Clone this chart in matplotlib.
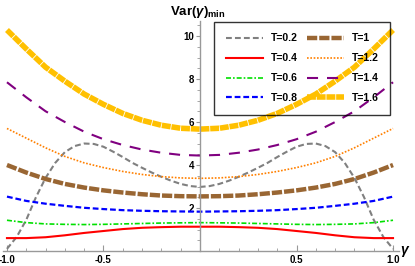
import matplotlib
matplotlib.use("Agg")
import matplotlib.pyplot as plt
from matplotlib.ticker import MultipleLocator, FixedLocator

plt.rcParams['font.family'] = ['Liberation Sans', 'DejaVu Sans']
plt.rcParams['font.weight'] = 'bold'
plt.rcParams['axes.unicode_minus'] = False
plt.rcParams['mathtext.fontset'] = 'custom'
plt.rcParams['mathtext.rm'] = 'Liberation Sans:bold'
plt.rcParams['mathtext.it'] = 'Liberation Sans:italic:bold'
plt.rcParams['mathtext.bf'] = 'Liberation Sans:bold'

# gamma grid (step 0.1) and a finer one for T=0.2
gamma = [-1.0, -0.9, -0.8, -0.7, -0.6, -0.5, -0.4, -0.3, -0.2, -0.1, 0.0,
         0.1, 0.2, 0.3, 0.4, 0.5, 0.6, 0.7, 0.8, 0.9, 1.0]
gamma_fine = [-1.0, -0.95, -0.9, -0.85, -0.8, -0.75, -0.7, -0.65, -0.6, -0.55, -0.5,
              -0.45, -0.4, -0.35, -0.3, -0.25, -0.2, -0.15, -0.1, -0.05, 0.0,
              0.05, 0.1, 0.15, 0.2, 0.25, 0.3, 0.35, 0.4, 0.45, 0.5,
              0.55, 0.6, 0.65, 0.7, 0.75, 0.8, 0.85, 0.9, 0.95, 1.0]

# Var(gamma)_min
var_t02 = [0.1, 0.65, 1.45, 2.5, 3.4, 4.1, 4.6, 4.88, 5.0, 4.98, 4.85,
           4.62, 4.37, 4.1, 3.87, 3.65, 3.45, 3.27, 3.12, 3.02, 2.98,
           3.02, 3.12, 3.27, 3.45, 3.65, 3.87, 4.1, 4.37, 4.62, 4.85,
           4.98, 5.0, 4.88, 4.6, 4.1, 3.4, 2.5, 1.45, 0.65, 0.1]
var_t04 = [0.6, 0.6, 0.64, 0.73, 0.84, 0.93, 1.02, 1.08, 1.11, 1.13, 1.13,
           1.13, 1.11, 1.08, 1.02, 0.93, 0.84, 0.73, 0.64, 0.6, 0.6]
var_t06 = [1.43, 1.32, 1.26, 1.24, 1.23, 1.24, 1.26, 1.28, 1.3, 1.31, 1.32,
           1.31, 1.3, 1.28, 1.26, 1.24, 1.23, 1.24, 1.26, 1.32, 1.43]
var_t08 = [2.53, 2.33, 2.2, 2.1, 2.01, 1.95, 1.9, 1.87, 1.85, 1.84, 1.83,
           1.84, 1.85, 1.87, 1.9, 1.95, 2.01, 2.1, 2.2, 2.33, 2.53]
var_t10 = [4.0, 3.65, 3.35, 3.12, 2.95, 2.82, 2.72, 2.64, 2.58, 2.55, 2.54,
           2.55, 2.58, 2.64, 2.72, 2.82, 2.95, 3.12, 3.35, 3.65, 4.0]
var_t12 = [5.7, 5.25, 4.8, 4.4, 4.1, 3.88, 3.7, 3.56, 3.46, 3.4, 3.38,
           3.4, 3.46, 3.56, 3.7, 3.88, 4.1, 4.4, 4.8, 5.25, 5.7]
var_t14 = [7.85, 7.15, 6.5, 6.0, 5.55, 5.2, 4.93, 4.72, 4.57, 4.47, 4.44,
           4.47, 4.57, 4.72, 4.93, 5.2, 5.55, 6.0, 6.5, 7.15, 7.85]
var_t16 = [10.28, 9.4, 8.55, 7.9, 7.3, 6.82, 6.4, 6.08, 5.85, 5.71, 5.67,
           5.71, 5.85, 6.08, 6.4, 6.82, 7.3, 7.9, 8.55, 9.4, 10.28]

fig = plt.figure(figsize=(4.15, 2.66), dpi=100)
ax = fig.add_axes([0.0075, 0.0564, 0.9535, 0.8647])

ax.plot(gamma_fine, var_t02, color='#808080', lw=1.5, dashes=(2.8, 1.5), label='T=0.2')
ax.plot(gamma, var_t04, color='#ff0000', lw=1.5, label='T=0.4')
ax.plot(gamma, var_t06, color='#00e000', lw=1.2, dashes=(3, 1.2, 1, 1.2), label='T=0.6')
ax.plot(gamma, var_t08, color='#0000ff', lw=1.6, dashes=(2.6, 1.3), label='T=0.8')
ax.plot(gamma, var_t10, color='#996633', lw=3.2, dashes=(2.3, 0.45), label='T=1')
ax.plot(gamma, var_t12, color='#ff8000', lw=1.2, dashes=(1, 1), label='T=1.2')
ax.plot(gamma, var_t14, color='#800080', lw=1.5, dashes=(5.3, 4.3), label='T=1.4')
ax.plot(gamma, var_t16, color='#ffc000', lw=4, dashes=(1.6, 0.15), label='T=1.6')

ax.set_xlim(-1.02, 1.03)
ax.set_ylim(0, 10.7)

for s in ['top', 'right']:
    ax.spines[s].set_visible(False)
ax.spines['left'].set_position(('data', 0))
ax.spines['bottom'].set_position(('data', 0))
for s in ['left', 'bottom']:
    ax.spines[s].set_color('#999999')
    ax.spines[s].set_linewidth(1.0)

ax.xaxis.set_major_locator(FixedLocator([-1.0, -0.5, 0.5, 1.0]))
ax.set_xticklabels(['-1.0', '-0.5', '0.5', '1.0'])
ax.xaxis.set_minor_locator(MultipleLocator(0.1))
ax.yaxis.set_major_locator(FixedLocator([2, 4, 6, 8, 10]))
ax.yaxis.set_minor_locator(MultipleLocator(0.5))
ax.tick_params(axis='x', which='major', direction='in', length=4, width=0.8,
               color='#999999', labelsize=7, pad=3)
ax.tick_params(axis='x', which='minor', direction='in', length=2.5, width=0.6, color='#999999')
ax.tick_params(axis='y', which='major', direction='out', length=3, width=0.8,
               color='#999999', labelsize=7, pad=1)
ax.tick_params(axis='y', which='minor', direction='out', length=2, width=0.6, color='#999999')

fig.text(0.477, 0.955, r'$\mathrm{Var}(\gamma)_{\mathrm{min}}$', ha='center', va='center', fontsize=9.5)
fig.text(0.976, 0.053, r'$\gamma$', ha='center', va='center', fontsize=10)

leg = ax.legend(ncol=2, loc='upper right', bbox_to_anchor=(0.978, 0.996), borderaxespad=0,
                fontsize=7.5, frameon=True, fancybox=False, handlelength=3.6,
                columnspacing=0.9, handletextpad=0.7, labelspacing=0.95,
                borderpad=1.1)
leg.get_frame().set_edgecolor('black')
leg.get_frame().set_linewidth(1.0)
leg.get_frame().set_facecolor('none')

fig.savefig('out.png', dpi=100)
